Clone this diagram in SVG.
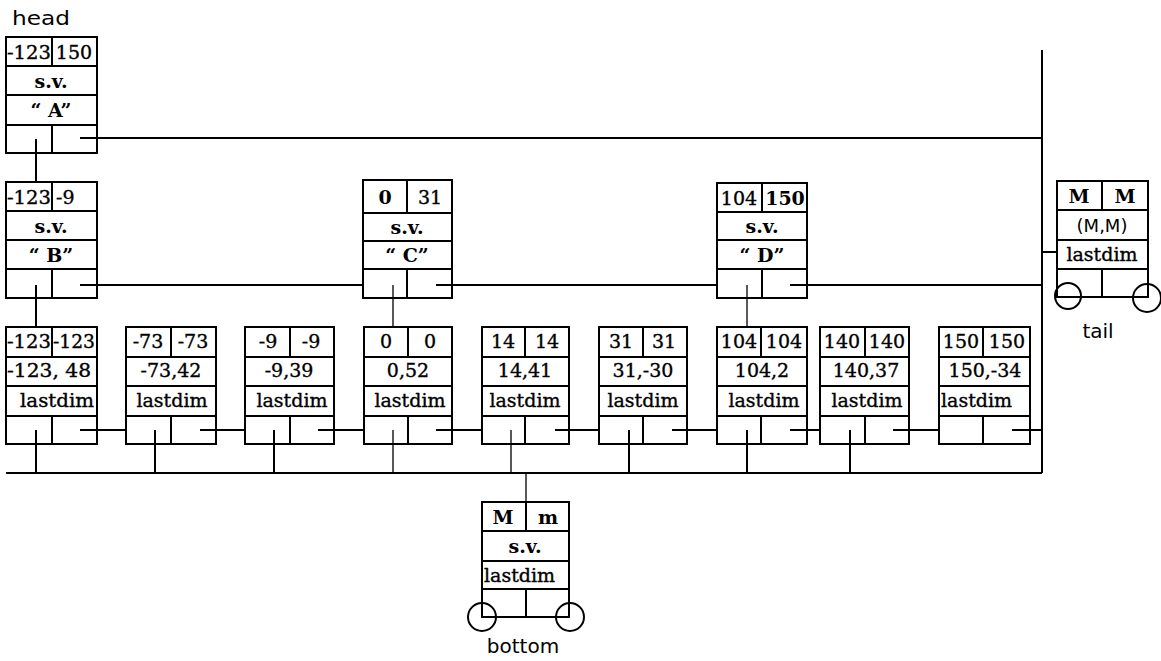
<svg xmlns="http://www.w3.org/2000/svg" width="1161" height="661" viewBox="0 0 1161 661">
<style>
.bx{fill:#fff;stroke:#000;stroke-width:2}
.dv{fill:none;stroke:#000;stroke-width:2}
.ln{fill:none;stroke:#000;stroke-width:2}
.tn{fill:none;stroke:#000;stroke-width:1.3}
.t{font-family:"DejaVu Serif","Liberation Serif",serif;font-size:19px;fill:#000;stroke:#000;stroke-width:0.35;text-anchor:middle}
.b{font-weight:bold;stroke-width:0}
.s{font-family:"DejaVu Sans","Liberation Sans",sans-serif;font-size:20px;fill:#000;text-anchor:middle}
.c{fill:none;stroke:#000;stroke-width:2}
</style>
<rect width="1161" height="661" fill="#fff"/>
<g id="head">
<text class="s" x="12" y="25" style="text-anchor:start" textLength="58" lengthAdjust="spacingAndGlyphs">head</text>
<rect class="bx" x="6" y="37" width="91" height="116"/>
<path class="dv" d="M6 66H97M6 95H97M6 125H97M52 37V66M52 125V153"/>
<text class="t" x="29" y="59" textLength="44" lengthAdjust="spacingAndGlyphs">-123</text>
<text class="t" x="74" y="59">150</text>
<text class="t b" x="51" y="88">s.v.</text>
<text class="t b" x="51" y="117">“ A”</text>
</g>
<g id="nodeB">
<rect class="bx" x="6" y="182" width="91" height="116"/>
<path class="dv" d="M6 211H97M6 240H97M6 269H97M52 182V211M52 269V298"/>
<text class="t" x="29" y="204" textLength="44" lengthAdjust="spacingAndGlyphs">-123</text>
<text class="t" x="56" y="204" style="text-anchor:start">-9</text>
<text class="t b" x="51" y="233">s.v.</text>
<text class="t b" x="51" y="262">“ B”</text>
</g>
<g id="nodeC">
<rect class="bx" x="363" y="180" width="89" height="118"/>
<path class="dv" d="M363 213H452M363 241H452M363 269H452M407 180V213M407 269V298"/>
<text class="t b" x="385" y="204">0</text>
<text class="t" x="430" y="204">31</text>
<text class="t b" x="407" y="234">s.v.</text>
<text class="t b" x="407" y="262">“ C”</text>
</g>
<g id="nodeD">
<rect class="bx" x="717" y="183" width="90" height="115"/>
<path class="dv" d="M717 212H807M717 240H807M717 269H807M762 183V212M762 269V298"/>
<text class="t" x="739" y="205">104</text>
<text class="t b" x="785" y="205">150</text>
<text class="t b" x="762" y="233">s.v.</text>
<text class="t b" x="762" y="262">“ D”</text>
</g>
<g id="tail">
<rect class="bx" x="1057" y="181" width="91" height="116"/>
<path class="dv" d="M1057 210H1148M1057 240H1148M1057 269H1148M1102 181V210M1102 269V297"/>
<text class="t b" x="1079" y="203">M</text>
<text class="t b" x="1125" y="203">M</text>
<text class="s" x="1102" y="232" style="font-size:18px">(M,M)</text>
<text class="t" x="1102" y="261">lastdim</text>
<circle class="c" cx="1068" cy="296" r="13"/>
<circle class="c" cx="1147" cy="298" r="14"/>
<text class="s" x="1098" y="338">tail</text>
</g>
<g id="n1">
<rect class="bx" x="6" y="327" width="91" height="117"/>
<path class="dv" d="M6 357H97M6 386H97M6 416H97M52 327V357M52 416V444"/>
<text class="t" x="29" y="348" textLength="44" lengthAdjust="spacingAndGlyphs">-123</text>
<text class="t" x="74" y="348" textLength="42" lengthAdjust="spacingAndGlyphs">-123</text>
<text class="t" x="49" y="377" textLength="84" lengthAdjust="spacingAndGlyphs">-123, 48</text>
<text class="t" x="57" y="407" textLength="74" lengthAdjust="spacingAndGlyphs">lastdim</text>
</g>
<g id="n2">
<rect class="bx" x="126" y="327" width="90" height="117"/>
<path class="dv" d="M126 357H216M126 386H216M126 416H216M171 327V357M171 416V444"/>
<text class="t" x="148" y="348">-73</text>
<text class="t" x="193" y="348">-73</text>
<text class="t" x="171" y="377">-73,42</text>
<text class="t" x="172" y="407">lastdim</text>
</g>
<g id="n3">
<rect class="bx" x="245" y="327" width="89" height="117"/>
<path class="dv" d="M245 357H334M245 386H334M245 416H334M290 327V357M290 416V444"/>
<text class="t" x="268" y="348">-9</text>
<text class="t" x="311" y="348">-9</text>
<text class="t" x="289" y="377">-9,39</text>
<text class="t" x="292" y="407">lastdim</text>
</g>
<g id="n4">
<rect class="bx" x="364" y="327" width="88" height="117"/>
<path class="dv" d="M364 357H452M364 386H452M364 416H452M408 327V357M408 416V444"/>
<text class="t" x="386" y="348">0</text>
<text class="t" x="430" y="348">0</text>
<text class="t" x="408" y="377">0,52</text>
<text class="t" x="410" y="407">lastdim</text>
</g>
<g id="n5">
<rect class="bx" x="482" y="327" width="87" height="117"/>
<path class="dv" d="M482 357H569M482 386H569M482 416H569M525 327V357M525 416V444"/>
<text class="t" x="503" y="348">14</text>
<text class="t" x="547" y="348">14</text>
<text class="t" x="525" y="377">14,41</text>
<text class="t" x="525" y="407">lastdim</text>
</g>
<g id="n6">
<rect class="bx" x="599" y="327" width="88" height="117"/>
<path class="dv" d="M599 357H687M599 386H687M599 416H687M643 327V357M643 416V444"/>
<text class="t" x="621" y="348">31</text>
<text class="t" x="664" y="348">31</text>
<text class="t" x="643" y="377">31,-30</text>
<text class="t" x="643" y="407">lastdim</text>
</g>
<g id="n7">
<rect class="bx" x="717" y="327" width="90" height="117"/>
<path class="dv" d="M717 357H807M717 386H807M717 416H807M761 327V357M761 416V444"/>
<text class="t" x="739" y="348">104</text>
<text class="t" x="784" y="348">104</text>
<text class="t" x="762" y="377">104,2</text>
<text class="t" x="764" y="407">lastdim</text>
</g>
<g id="n8">
<rect class="bx" x="820" y="327" width="89" height="117"/>
<path class="dv" d="M820 357H909M820 386H909M820 416H909M865 327V357M865 416V444"/>
<text class="t" x="842" y="348">140</text>
<text class="t" x="887" y="348">140</text>
<text class="t" x="866" y="377">140,37</text>
<text class="t" x="867" y="407">lastdim</text>
</g>
<g id="n9">
<rect class="bx" x="939" y="327" width="91" height="117"/>
<path class="dv" d="M939 357H1030M939 386H1030M939 416H1030M983 327V357M983 416V444"/>
<text class="t" x="961" y="348">150</text>
<text class="t" x="1007" y="348">150</text>
<text class="t" x="985" y="377">150,-34</text>
<text class="t" x="941" y="407" style="text-anchor:start">lastdim</text>
</g>
<g id="bottom">
<rect class="bx" x="482" y="502" width="87" height="115"/>
<path class="dv" d="M482 531H569M482 561H569M482 589H569M526 502V531M526 589V617"/>
<text class="t b" x="503" y="524">M</text>
<text class="t b" x="548" y="524">m</text>
<text class="t b" x="525" y="553">s.v.</text>
<text class="t" x="484" y="582" style="text-anchor:start">lastdim</text>
<circle class="c" cx="482" cy="617" r="14"/>
<circle class="c" cx="570" cy="617" r="14"/>
<text class="s" x="523" y="653">bottom</text>
</g>
<g id="connectors">
<path class="ln" d="M80 138H1042"/>
<path class="ln" d="M1042 50V473"/>
<path class="ln" d="M36 139V182"/>
<path class="ln" d="M80 285H363M436 285H717M790 285H1042"/>
<path class="ln" d="M36 285V327"/>
<path class="tn" d="M393 285V327"/>
<path class="tn" d="M747 285V327"/>
<path class="ln" d="M1042 252H1057"/>
<path class="ln" d="M80 430H126M200 430H245M318 430H364M436 430H482M555 430H599M672 430H717M790 430H820M893 430H939M1012 430H1042"/>
<path class="ln" d="M36 430V473M155 430V473M274 430V473M629 430V473M747 430V473M850 430V473"/>
<path class="tn" d="M393 430V473M511 430V473"/>
<path class="ln" d="M6 473H1042"/>
<path class="tn" d="M526 473V502"/>
</g>
</svg>
